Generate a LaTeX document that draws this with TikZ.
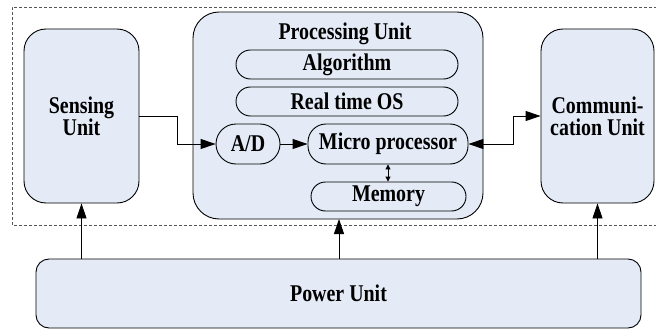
\documentclass[tikz,border=0pt]{standalone}
\usepackage{fontspec}
\setmainfont{Liberation Serif}[FakeStretch=0.83, BoldFeatures={FakeStretch=0.83}]
\usetikzlibrary{arrows.meta}
\definecolor{boxfill}{HTML}{E4EBF6}
\definecolor{dashgray}{HTML}{555555}
\begin{document}
\begin{tikzpicture}[x=1pt,y=-1pt,
  txt/.style={font=\fontsize{24}{22}\selectfont\bfseries, align=center, inner sep=0pt},
  unit/.style={txt, draw=black, line width=0.9pt, fill=boxfill},
  pill/.style={unit, rounded corners=#1},
  arr/.style={line width=0.9pt, -{Triangle[length=15pt,width=10pt]}},
  darr/.style={line width=0.9pt, {Triangle[length=15pt,width=10pt]}-{Triangle[length=15pt,width=10pt]}},
  sarr/.style={line width=0.9pt, {Triangle[length=5pt,width=5pt]}-{Triangle[length=5pt,width=5pt]}}
]
\useasboundingbox (0,0) rectangle (656,329);
% dashed frame
\draw[dashgray, line width=0.8pt, dash pattern=on 3pt off 2pt] (657,7) -- (12,7) -- (12,225) -- (657,225);

% main units
\node[pill=22pt, minimum width=115pt, minimum height=174pt] (sense) at (81.5,116) {Sensing\\Unit};
\node[pill=26pt, minimum width=290pt, minimum height=207pt] (proc) at (338,115.5) {};
\node[pill=22pt, minimum width=113pt, minimum height=174pt] (comm) at (597.5,116) {Communi-\\cation Unit};
\node[pill=13pt, minimum width=605pt, minimum height=69pt] (power) at (338.5,293.5) {Power Unit};

% inside processing unit
\node[txt] (ptitle) at (345,33.5) {Processing Unit};
\node[pill=14.5pt, minimum width=222pt, minimum height=29pt] (algo) at (347,64.5) {Algorithm};
\node[pill=14.5pt, minimum width=222pt, minimum height=29pt] (rtos) at (347,101.5) {Real time OS};
\node[pill=20pt, minimum width=64pt, minimum height=40pt] (ad) at (248,144) {A/D};
\node[pill=18pt, minimum width=160pt, minimum height=40pt] (micro) at (388,144) {Micro processor};
\node[pill=14.5pt, minimum width=155pt, minimum height=29pt] (mem) at (388.5,196.5) {Memory};

% connectors
\draw[arr] (sense.east) -- ++(38,0) |- (ad.west);
\draw[arr] (ad.east) -- (micro.west);
\draw[darr] (micro.east) -- ++(45,0) |- (comm.west);
\draw[sarr] (micro.south) -- (micro.south |- mem.north);
\draw[arr] (power.north -| sense.south) -- (sense.south);
\draw[arr] (power.north -| 339,0) -- (339,219);
\draw[arr] (power.north -| comm.south) -- (comm.south);
\end{tikzpicture}
\end{document}
